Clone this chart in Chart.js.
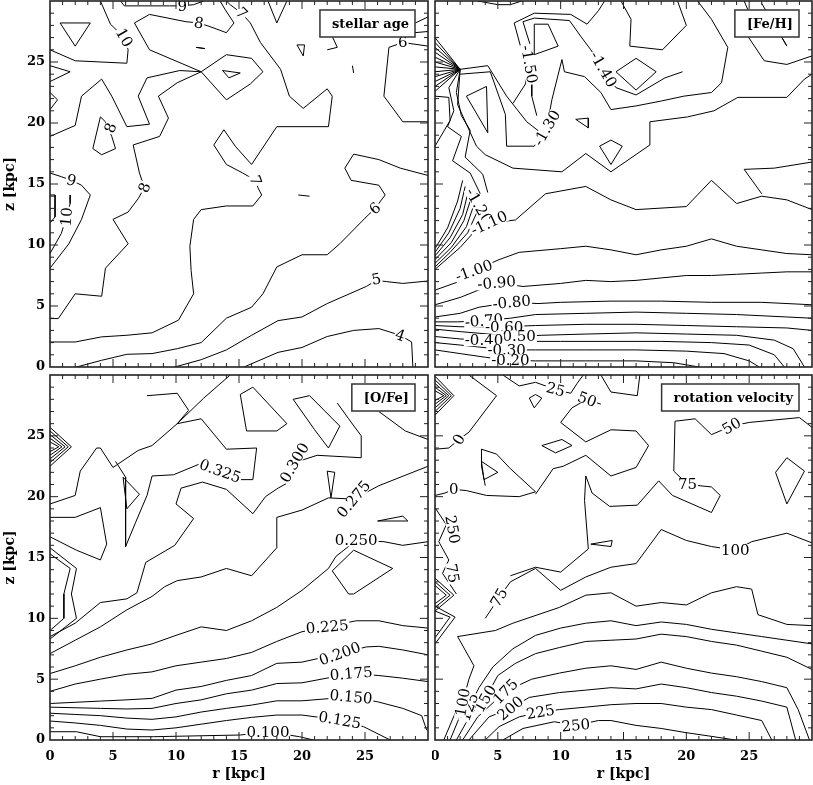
<!DOCTYPE html>
<html>
<head>
<meta charset="utf-8">
<script src="https://cdn.jsdelivr.net/npm/chart.js@4.4.1/dist/chart.umd.min.js"></script>
<style>
  body { margin: 0; background: #fff; width: 813px; height: 785px; position: relative; overflow: hidden; }
  canvas { position: absolute; }
</style>
</head>
<body>
<canvas id="cAge" width="432" height="372" style="left:0;top:0"></canvas>
<canvas id="cFe" width="381" height="372" style="left:432px;top:0"></canvas>
<canvas id="cOFe" width="432" height="413" style="left:0;top:372px"></canvas>
<canvas id="cVrot" width="381" height="413" style="left:432px;top:372px"></canvas>
<script>
// axis ticks (kpc)
const rTicks = [0, 5, 10, 15, 20, 25];
const zTicks = [0, 5, 10, 15, 20, 25];

// ---- stellar age contours, [r, z] in kpc ----
const age4 = [[15.4,0],[18.1,1.2],[20.0,1.6],[22.0,2.5],[24.1,3.0],[26.1,3.15],[27.8,2.6],[28.7,2.05],[28.8,0]];
const age5 = [[9.9,0],[12.0,0.6],[14.0,1.4],[16.0,2.6],[18.1,3.8],[20.0,4.1],[22.0,5.2],[25.1,6.6],[25.9,7.1],[26.7,7.0],[28.0,6.85],[30,7.05]];
const age6 = [[2.1,0],[4.1,0.55],[6.1,1.04],[8.1,1.1],[10.1,1.5],[12.0,2.0],[14.0,4.0],[16.0,4.9],[16.9,6.0],[18.0,8.2],[20.0,9.2],[22.0,9.2],[23.0,10.1],[25.0,12.2],[25.8,13.0],[26.6,14.1],[26.1,14.9],[23.9,15.3],[23.4,16.3],[24.1,17.45],[26.1,17.0],[27.8,16.3],[30,15.7]];
const age7 = [[0,2.05],[2.0,2.05],[4.1,2.47],[6.1,2.6],[8.1,2.8],[10.2,3.84],[11.4,6.0],[11.2,7.9],[11.1,9.9],[11.4,12.1],[12.0,12.9],[14.0,13.2],[16.1,13.2],[16.8,14.1],[16.5,14.7],[16.3,15.3],[15.3,15.9],[14.0,16.6],[13.0,18.2],[13.8,19.45],[14.7,18.1],[16.0,16.6],[18.0,19.7],[22.1,19.7],[22.4,22.2],[22.0,22.8],[20.1,21.2],[19.0,22.2],[18.3,24.4],[16.7,26.6],[15.9,28.2],[15.2,29.0],[14.3,29.7],[14.0,30]];
const age8a = [[0,3.97],[0.66,3.97],[2.0,6.0],[4.1,5.8],[4.4,8.1],[6.2,10.1],[5.0,12.1],[6.2,12.7],[7.0,13.8],[7.5,14.7],[7.1,15.9],[6.6,18.2],[8.7,18.9],[9.4,20.4],[8.6,22.2],[10.1,23.3],[12.0,24.2],[14.0,21.9],[15.9,23.2],[16.9,24.2],[16.0,25.3],[14.0,25.6],[12.0,24.2],[7.9,26.0],[6.7,28.2],[7.9,28.9],[10.8,28.3],[11.8,28.2],[12.7,27.9],[14.0,27.4],[14.6,28.2],[13.9,29.3],[13.5,30]];
const age8b = [[4.0,20.5],[3.4,17.9],[4.1,17.4],[5.2,17.9],[4.9,18.9],[4.4,20.1],[4.0,20.5]];
const age9a = [[0,18.9],[2.0,19.8],[2.5,22.2],[4.1,23.6],[4.9,22.2],[6.1,19.7],[7.9,19.9],[7.0,22.2],[7.7,23.7],[10.3,24.3],[12.0,24.2]];
const age9b = [[5.6,30],[5.9,29.6],[9.5,29.6],[10.5,29.6],[11.4,29.7],[12.2,30]];
const age9c = [[0,15.9],[0.9,15.6],[1.7,15.3],[2.5,14.9],[3.2,14.1],[2.5,12.1],[1.5,10.1],[0,8.1]];
const age10a = [[4.0,30],[4.8,28.1],[5.9,27.0],[6.2,26.0],[6.1,24.9],[2.0,25.1],[0,26.0]];
const age10b = [[1.6,14.1],[1.6,13.4],[1.3,12.3],[0.9,10.95],[0,9.3]];
const age11 = [[0,14.1],[0.4,14.1],[0.4,12.3],[0,11.8]];
const ageTri = [[0.8,28.2],[3.2,28.2],[2.0,26.3],[0.8,28.2]];
const ageNotchA = [[0,24.7],[1.6,24.2],[0,23.4]];
const ageNotchB = [[0,22.5],[0.6,21.9],[0,21.1]];
const ageDiamond = [[13.7,24.3],[15.1,24.1],[14.2,23.7],[13.7,24.3]];
const ageSmallTri = [[19.6,26.4],[20.2,26.4],[20.1,25.5],[19.6,26.4]];
const ageTopV = [[17.3,30],[18.0,28.2],[18.8,30]];
const age6top = [[30,26.3],[28.0,26.6],[26.9,26.2],[26.5,22.2],[28.0,20.1],[30,20.1]];
const age7box = [[22.0,26.0],[22.8,26.2],[22.4,27.1]];
const ageEyeA = [[11.6,26.2],[12.3,26.1],[11.6,26.2]];
const ageEyeB = [[19.7,14.1],[20.6,14.0]];
const ageEyeC = [[24.0,24.7],[24.1,24.1]];
const ageCornerA = [[29.0,28.2],[30,28.7]];
const ageCornerB = [[28.9,27.4],[30,27.5]];
const ageLabels = [['4',27.8,2.6,20],['5',25.9,7.2,-10],['6',25.8,13.0,-40],['7',16.3,15.3,70],['7',15.2,29.0,45],
  ['8',7.5,14.7,-70],['8',11.8,28.2,10],['8',4.8,19.6,-70],['9',1.7,15.3,15],['9',10.5,29.6,0],['10',5.9,27.0,60],['10',1.3,12.3,-85],['6',28.0,26.6,0]];

// ---- [Fe/H] contours ----
const fe020 = [[0,1.4],[2,1.1],[4,0.8],[6.0,0.55],[8,0.5],[12,0.5],[16,0.5],[19,0.35],[21,0]];
const fe030 = [[0,2.0],[2,1.8],[5.7,1.4],[8,1.4],[12,1.4],[16,1.4],[20,1.3],[23,1.1],[25,0.5],[25.8,0]];
const fe040 = [[0,2.5],[2,2.3],[3.9,2.2],[6,2.1],[10,2.1],[14,2.1],[18,2.1],[22,2.0],[25,1.8],[27,1.0],[27.8,0]];
const fe050 = [[0,3.1],[2,2.9],[6.5,2.5],[8.5,2.6],[12,2.7],[16,2.8],[20,2.7],[24,2.6],[27,2.2],[28.5,1.5],[29.4,0]];
const fe060 = [[0,3.4],[2,3.3],[5.5,3.3],[8,3.4],[12,3.5],[16,3.5],[20,3.4],[24,3.3],[28,3.2],[30,3.0]];
const fe070 = [[0,3.7],[1.8,3.7],[3.9,3.8],[6,4.0],[8,4.3],[12,4.4],[16,4.5],[20,4.4],[24,4.3],[28,4.1],[30,4.0]];
const fe080 = [[0,4.1],[2,4.4],[3.5,4.9],[6.1,5.3],[8.2,5.2],[10,5.3],[14,5.4],[18,5.4],[22,5.3],[26,5.3],[30,5.1]];
const fe090 = [[0,5.1],[2,5.7],[4.9,6.9],[7.0,6.6],[10,6.85],[12,7.1],[14,7.0],[16,7.1],[18,7.3],[20,7.5],[22,7.5],[24,7.6],[26,7.7],[28,7.8],[30,7.8]];
const fe100 = [[0,6.3],[1.9,7.0],[3.1,7.9],[5.1,8.8],[6.7,9.4],[10,9.7],[12,9.9],[14,9.6],[16,9.2],[18,9.6],[20,9.9],[22,10.5],[24,9.9],[26,9.6],[28,9.3],[30,9.2]];
const fe110 = [[0,8.0],[2.0,9.8],[3.4,11.4],[4.3,11.8],[6.4,12.05],[8.8,14.2],[12.0,14.8],[14.0,13.7],[16.0,12.9],[20.0,13.15],[22.0,15.3],[24.0,13.4],[26.0,14.0],[28.0,13.7],[30,12.9]];
const fe110b = [[30,16.8],[27,16.3],[24.6,16.2],[26.0,14.2]];
const fe120 = [[2.0,24.4],[1.8,21.5],[3.3,18.1],[4.0,17.4],[6.2,16.3],[10.1,16.0],[12.0,17.5],[14.0,16.0],[17.1,18.2],[17.1,20.1],[20.1,20.5],[22.2,21.0],[24.1,22.1],[26.1,22.1],[28.0,22.1],[29.4,23.6],[30,24.0]];
const fe130 = [[5.7,18.1],[7.9,18.1],[8.9,19.6],[9.3,21.9],[10.1,25.2],[10.3,24.2],[11.9,23.8],[13.2,22.5],[14.0,21.1],[16.0,21.4],[18.0,21.8],[19.8,22.2],[22.0,22.5],[22.8,23.3],[23.3,26.2],[22.0,28.5],[20.9,30]];
const fe130b = [[2.0,24.4],[4.2,24.7],[5.7,22.2],[7.3,20.1],[8.3,19.3]];
const fe130c = [[2.0,24.0],[4.4,24.2],[5.6,20.7],[5.7,18.1]];
const fe140 = [[7.0,28.3],[7.9,28.6],[10.7,28.4],[11.6,27.1],[12.4,26.0],[13.4,24.4],[14.4,22.9],[16.0,22.3],[18.3,23.7],[19.7,24.2]];
const fe150 = [[6.2,21.6],[7.2,23.2],[7.5,24.8],[6.8,26.3],[6.3,28.2],[7.9,29.0],[10.8,28.9],[12.1,28.1],[13.0,29.2],[13.5,30]];
const fe150b = [[7.0,28.3],[7.7,26.0],[7.7,22.2],[8.1,20.6]];
const feTopV = [[3.4,30],[5.0,29.7],[6.0,29.7],[6.9,30]];
const feTri = [[7.9,28.1],[9.0,28.1],[9.8,26.3],[7.9,25.6],[7.9,28.1]];
const feTriIn = [[2.5,22.2],[4.1,23.0],[4.2,19.2],[2.5,22.2]];
const feDiamond = [[14.4,24.2],[16.0,25.3],[17.6,24.2],[16.0,22.7],[14.4,24.2]];
const feLoop = [[14.8,30],[15.6,28.5],[15.5,26.3],[18.1,26.0],[20.0,28.0],[19.3,30]];
const feRight = [[24.6,30],[25.1,28.8],[24.9,27.1],[26.2,25.1],[28.0,24.8],[30,25.5]];
const feRightV = [[26.0,29.8],[28.0,26.3],[27.4,27.4]];
const feSmallA = [[11.2,20.3],[12.2,20.4],[12.2,19.6],[11.2,20.3]];
const feSmallB = [[13.1,18.1],[14.0,18.6],[14.9,18.1],[14.0,16.6],[13.1,18.1]];
const feEdge = [[0,22.2],[1.1,22.1],[1.2,20.2],[0,18.1]];
const feWigA = [[2.0,24.4],[1.1,22.9],[1.5,21.0],[1.0,19.7],[2.1,18.9],[1.4,16.9],[2.8,15.9],[3.6,14.2]];
const feWigB = [[2.0,24.4],[1.7,22.5],[2.1,20.6],[2.8,19.4],[2.4,17.2],[3.8,15.8],[4.2,14.3]];
const feFanTop = [22.6,23.0,23.4,23.8,24.2,24.6,25.0,25.4,25.8,26.2,26.6,27.0];
const feBundle = [
  [[0,8.2],[1.2,9.4],[2.6,11.0],[3.3,12.6]],
  [[0,8.5],[1.3,9.8],[2.5,11.5],[3.0,13.0]],
  [[0,8.8],[1.3,10.2],[2.3,12.0],[2.8,13.6]],
  [[0,9.1],[1.2,10.6],[2.2,12.5],[2.6,14.2]],
  [[0,9.4],[1.1,11.0],[2.0,13.0],[2.4,14.8]],
  [[0,9.7],[1.0,11.4],[1.8,13.6],[2.2,15.3]]
];
const feLabels = [['-1.50',7.5,24.8,80],['-1.40',13.4,24.4,60],['-1.30',8.9,19.6,-60],['-1.20',3.5,13.2,60],['-1.10',4.3,11.8,-25],
  ['-1.00',3.1,7.9,-20],['-0.90',4.9,6.9,-5],['-0.80',6.1,5.3,-5],['-0.70',3.9,3.8,-5],['-0.60',5.5,3.3,0],['-0.50',6.5,2.5,0],
  ['-0.40',3.9,2.2,0],['-0.30',5.7,1.4,0],['-0.20',6.0,0.55,0]];

// ---- [O/Fe] contours ----
const ofe100 = [[0,0.68],[2.1,0.68],[4.0,0.27],[8.2,0.27],[15.1,0.41],[17.3,0.68],[19.8,0.27],[20.9,0]];
const ofe125 = [[0,1.56],[2,1.4],[4,1.2],[6.1,0.9],[8.1,0.82],[10,1.0],[12,1.3],[14,1.6],[16,1.86],[18,2.05],[20,2.05],[23.0,1.64],[24.9,1.09],[27.0,0]];
const ofe150 = [[0,2.2],[2,2.1],[4,2.0],[6.1,1.8],[8.1,1.7],[10,1.9],[12,2.3],[14,2.6],[16,2.87],[18,3.22],[20,3.22],[23.9,3.55],[26.0,3.14],[28.0,2.6],[29.5,2.0],[29.9,0.8]];
const ofe175 = [[0,2.7],[2,2.65],[4,2.6],[6.1,2.55],[8.1,2.6],[10,3.0],[12,3.3],[14,3.8],[16,4.1],[18,4.64],[20,4.7],[23.9,5.46],[26.1,5.3],[28,5.08],[30,4.8]];
const ofe200 = [[0,3.0],[2,3.1],[4,3.2],[6.1,3.3],[8.1,3.42],[10,4.1],[12,4.4],[14,4.9],[16,5.3],[18,6.3],[20,6.4],[23.0,7.1],[25.1,7.65],[26.1,7.7],[28,7.4],[30,7.0]];
const ofe225 = [[0,4.0],[2,4.6],[4,5.0],[6.1,5.4],[8.1,5.6],[10,6.1],[12,6.4],[14,6.7],[16,7.2],[18,8.1],[20,8.9],[22.0,9.3],[24.3,9.8],[26.1,9.8],[28,9.4],[30,9.2]];
const ofe250 = [[0,5.46],[2,6.1],[4,6.8],[6.1,7.4],[8.1,7.9],[10,8.6],[12,9.3],[14,9.0],[16,9.8],[18,10.9],[20,12.3],[22.1,14.1],[22.7,15.1],[24.3,16.4],[26.5,16.3],[28,16.0],[30,16.3]];
const ofe275 = [[0,7.1],[2,8.2],[4,9.3],[6.1,10.7],[8.1,11.8],[9.1,12.6],[10.1,13.1],[12,13.4],[14,14.1],[16,13.5],[18,15.8],[18,18.3],[20,18.9],[22.1,19.9],[24.1,19.8],[26.1,20.9],[30,22.5]];
const ofe300 = [[0,8.5],[2,9.6],[4,11.3],[6.1,11.6],[6.9,12.1],[7.6,14.6],[9.9,16.0],[11.4,18.2],[10.0,19.4],[10.4,20.7],[12.1,21.2],[14.0,20.6],[16.1,18.6],[17.1,20.0],[18.1,20.7],[18.8,21.1],[19.4,22.8],[21.2,23.4],[24.7,23.2],[24.7,25.0],[23.7,26.4],[22.8,27.7]];
const ofe325 = [[5.2,22.9],[6.0,21.6],[6.0,15.9],[6.8,17.9],[7.7,20.1],[8.1,21.7],[9.8,21.8],[11.9,22.7],[13.5,22.1],[15.1,21.4],[16.1,21.4],[16.4,24.0],[14.0,23.9],[12.0,26.4],[10.1,26.0]];
const ofeUpper = [[0,19.4],[2.0,20.1],[2.4,22.1],[3.7,24.0],[4.0,24.0],[5.0,22.4],[7.0,23.8],[8.1,24.2],[10.1,26.0],[12.2,28.1],[14.3,30]];
const ofeLobe = [[0,18.3],[2.0,18.3],[4.0,19.1],[4.5,16.1],[4.0,14.8],[2.1,15.6],[0,16.7]];
const ofeEdgeA = [[0,15.8],[2.1,14.1],[1.7,12.0],[2.1,10.0],[0,8.3]];
const ofeEdgeB = [[0,15.3],[1.6,14.1],[1.1,12.0],[1.1,10.0],[0,9.0]];
const ofeTri = [[22.0,22.1],[22.6,22.0],[22.3,19.9],[22.0,22.1]];
const ofeTriB = [[5.8,21.6],[7.1,20.2],[6.1,19.0],[5.8,21.6]];
const ofeTopA = [[15.1,28.4],[16.1,29.0],[18.8,26.0],[18.0,25.4],[15.6,25.4],[15.1,28.4]];
const ofeTopB = [[19.3,28.0],[20.6,28.3],[23.0,25.8],[22.1,24.0],[21.0,25.5],[19.3,28.0]];
const ofeTopC = [[7.7,28.3],[10.1,28.5],[11.0,27.1],[10.1,26.0]];
const ofeRightA = [[26.0,18.0],[28.0,18.4],[28.4,18.0],[26.0,18.0]];
const ofeRightB = [[22.4,13.9],[24.1,15.6],[27.2,14.1],[24.1,12.0],[23.7,12.0],[22.4,13.9]];
const ofeRightC = [[26.1,27.0],[28.2,25.4],[30,24.7]];
const ofeFan = [
  [[0,25.7],[1.7,24.1],[0,22.5]],
  [[0,25.4],[1.45,24.1],[0,22.8]],
  [[0,25.1],[1.2,24.1],[0,23.1]],
  [[0,24.8],[0.95,24.1],[0,23.4]],
  [[0,24.5],[0.7,24.1],[0,23.7]]
];
const ofeLabels = [['0.100',17.3,0.68,0],['0.125',23.0,1.64,10],['0.150',23.9,3.55,5],['0.175',23.9,5.46,-5],['0.200',23.0,7.1,-20],
  ['0.225',22.0,9.3,-5],['0.250',24.3,16.4,0],['0.275',24.1,19.8,-50],['0.300',19.4,22.8,-60],['0.325',13.5,22.1,20]];

// ---- rotation velocity contours ----
const v250 = [[5.4,0],[7.0,0.95],[9.5,1.5],[11.2,1.2],[13,1.6],[14,1.6],[16,1.2],[18,0.95],[20,0.6],[22,0.3],[23.9,0]];
const v225 = [[4.0,0],[5.1,1.1],[6.7,1.9],[8.4,2.3],[9.9,2.5],[12,2.7],[14,2.9],[16,3.0],[18,3.0],[20,2.7],[22,2.5],[24,2.05],[26,1.6],[26.8,0]];
const v200 = [[2.7,0],[4.3,1.9],[6.0,2.6],[7.5,3.5],[9.9,3.9],[12,4.1],[14,4.3],[16,4.2],[18,4.6],[20,4.3],[22,3.9],[24,3.6],[26,3.2],[28,2.7],[28.7,0]];
const v175 = [[2.2,0],[3.4,1.9],[5.6,4.0],[7.7,5.0],[9.9,5.5],[12,5.9],[14,6.1],[16,5.8],[18,6.4],[20,5.9],[22,5.5],[24,5.2],[26,4.8],[28,4.3],[28.9,2.5],[29.8,0]];
const v150 = [[1.7,0],[2.9,2.2],[4.0,3.4],[5.0,5.3],[6.4,6.3],[8,7.1],[9.9,7.6],[12,8.1],[14,8.2],[16,8.3],[18,8.7],[20,8.5],[22,8.1],[24,7.8],[26,7.3],[28,6.8],[30,5.8]];
const v125 = [[1.2,0],[2.0,2.0],[2.7,2.7],[3.5,4.3],[4.6,6.0],[6.2,7.5],[8,8.6],[10,9.2],[12,9.6],[14,9.8],[16,9.4],[18,9.7],[20,9.5],[22,9.1],[24,8.8],[26,8.5],[28,8.2],[30,7.9]];
const v100 = [[0.7,0],[1.6,2.2],[2.2,3.1],[2.7,5.0],[3.1,6.1],[1.8,8.5]];
const v100b = [[1.8,8.5],[4.8,9.0],[6.2,9.6],[9.9,10.9],[12,11.9],[14,12.1],[16,11.0],[18,11.3],[20,11.1],[22,12.1],[24,12.6],[25.2,12.4],[25.7,10.3],[28,9.5],[30,9.4]];
const v75 = [[4.0,10.0],[5.1,11.7],[6.0,13.0],[8.0,14.1],[10.0,12.3],[12.0,13.4],[14.0,14.2],[16.0,14.5],[18.0,17.3],[20.0,16.4],[22.0,15.9],[23.9,15.6],[25.2,16.3],[28.0,17.0],[30,16.2]];
const v75b = [[12.0,21.7],[12.5,20.3],[13.9,19.2],[16.1,19.3],[17.8,21.3],[18.9,20.1],[22.0,18.7],[22.7,20.1],[22.0,20.8],[20.1,21.0],[19.0,22.1],[19.1,26.2],[20.7,26.4],[22.0,25.1],[23.6,25.8],[25.0,26.1],[27.0,26.3],[29.0,26.5],[30,25.7]];
const v75c = [[12.0,21.7],[11.9,19.7],[12.2,15.7],[10.0,13.8],[8.0,14.2],[6.0,13.5]];
const v50 = [[10,26.1],[10.9,27.3],[12.1,28.0],[13.2,27.6]];
const v50loop = [[10.0,26.1],[12.0,24.5],[14.0,25.5],[16.0,25.4],[17.0,24.2],[16.0,22.4],[14.0,21.7],[12.0,23.4],[10.2,22.5],[9.4,22.3],[8.0,20.2]];
const v50U = [[13.2,30],[14.0,28.6],[16.1,28.3],[16.3,30]];
const v25 = [[5.4,30],[6.7,29.1],[8.0,29.4],[9.6,28.8],[10.8,28.5],[11.3,29.3],[11.8,30]];
const v0a = [[2.7,30],[4.9,28.3],[2.7,25.3],[1.9,24.7],[1.1,24.0],[0,23.9]];
const v0b = [[0,20.1],[0.8,20.3],[1.5,20.6],[2.5,20.5],[4.1,20.1],[6.7,20.0],[8.0,20.4],[6.0,22.3],[4.9,23.5],[3.7,23.9],[3.7,22.5],[4.0,20.9]];
const vSmallA = [[7.5,28.1],[8.0,28.4],[8.5,28.1],[7.9,27.3],[7.5,28.1]];
const vSmallB = [[8.5,24.2],[10.1,24.7],[10.9,24.2],[9.6,23.6],[8.5,24.2]];
const vSmallC = [[3.7,22.9],[5.0,22.0],[3.9,21.4],[3.7,22.9]];
const vSmallD = [[12.4,16.1],[14.1,16.4],[14.0,15.9],[12.4,16.1]];
const vDiamond = [[28.0,23.2],[29.4,22.1],[28.0,19.4],[27.1,22.0],[28.0,23.2]];
const vZig = [[0,19.1],[0.9,17.7],[0.3,16.3],[1.1,14.8],[0.6,13.7],[1.7,12.0]];
const vFanTop = [
  [[0,29.9],[1.5,28.3],[0,26.7]],
  [[0,29.6],[1.3,28.3],[0,27.0]],
  [[0,29.3],[1.1,28.3],[0,27.3]],
  [[0,29.0],[0.9,28.3],[0,27.6]],
  [[0,28.7],[0.7,28.3],[0,27.9]]
];
const vFanMid = [
  [[0,13.3],[1.5,11.9],[0,10.6]],
  [[0,13.0],[1.2,11.9],[0,10.9]],
  [[0,12.7],[0.9,11.9],[0,11.2]],
  [[0,11.0],[1.6,10.1],[0,7.9]],
  [[0,10.6],[1.2,10.1],[0,8.4]]
];
const vLabels = [['250',11.2,1.2,-5],['225',8.4,2.3,-10],['200',6.0,2.6,-40],['175',5.6,4.0,-45],['150',4.0,3.4,-60],['125',2.7,2.7,-70],
  ['100',2.2,3.1,-80],['75',5.1,11.7,-60],['100',23.9,15.6,0],['75',20.1,21.0,0],['50',23.6,25.8,-30],['50',12.1,28.0,20],
  ['25',9.6,28.8,15],['0',1.9,24.7,-60],['0',1.5,20.6,0],['250',1.4,17.3,80],['75',1.4,13.7,80]];

// fan lines at r = 0 for [Fe/H]: each left-edge start point runs into the same vertex
const feFanLines = feFanTop.map(z0 => [[0, z0], [2.0, 24.4]]);

const agePaths = [age4, age5, age6, age7, age8a, age8b, age9a, age9b, age9c, age10a, age10b, age11, ageTri, ageNotchA, ageNotchB,
  ageDiamond, ageSmallTri, ageTopV, age6top, age7box, ageEyeA, ageEyeB, ageEyeC, ageCornerA, ageCornerB];
const fePaths = [fe020, fe030, fe040, fe050, fe060, fe070, fe080, fe090, fe100, fe110, fe110b, fe120, fe130, fe130b, fe130c, fe140,
  fe150, fe150b, feTopV, feTri, feTriIn, feDiamond, feLoop, feRight, feRightV, feSmallA, feSmallB, feEdge, feWigA, feWigB,
  ...feBundle, ...feFanLines];
const ofePaths = [ofe100, ofe125, ofe150, ofe175, ofe200, ofe225, ofe250, ofe275, ofe300, ofe325, ofeUpper, ofeLobe, ofeEdgeA, ofeEdgeB,
  ofeTri, ofeTriB, ofeTopA, ofeTopB, ofeTopC, ofeRightA, ofeRightB, ofeRightC, ...ofeFan];
const vPaths = [v250, v225, v200, v175, v150, v125, v100, v100b, v75, v75b, v75c, v50, v50loop, v50U, v25, v0a, v0b,
  vSmallA, vSmallB, vSmallC, vSmallD, vDiamond, vZig, ...vFanTop, ...vFanMid];

const SERIF = '"DejaVu Serif", serif';

// labels, legend box, frame and inward tick marks
const panelDeco = {
  id: 'panelDeco',
  afterDatasetsDraw(chart, args, opts) {
    const { ctx, chartArea: a, scales: { x, y } } = chart;
    ctx.save();
    ctx.beginPath();
    ctx.rect(a.left, a.top, a.right - a.left, a.bottom - a.top);
    ctx.clip();

    ctx.font = '15px ' + SERIF;
    ctx.textAlign = 'center';
    ctx.textBaseline = 'middle';
    opts.labels.forEach(([txt, r, z, ang]) => {
      const px = x.getPixelForValue(r);
      const py = y.getPixelForValue(z);
      const w = ctx.measureText(txt).width;
      ctx.save();
      ctx.translate(px, py);
      ctx.rotate(ang * Math.PI / 180);
      ctx.fillStyle = '#fff';
      ctx.fillRect(-w / 2 - 1, -6, w + 2, 12);
      ctx.fillStyle = '#000';
      ctx.fillText(txt, 0, 1);
      ctx.restore();
    });

    // legend box in the upper right corner
    ctx.font = 'bold 13px ' + SERIF;
    const tw = ctx.measureText(opts.title).width;
    const bx1 = a.right - 13, bx0 = bx1 - tw - 18, by0 = a.top + 9, bh = 27;
    ctx.fillStyle = '#fff';
    ctx.fillRect(bx0, by0, bx1 - bx0, bh);
    ctx.strokeStyle = '#333';
    ctx.lineWidth = 1.5;
    ctx.strokeRect(bx0, by0, bx1 - bx0, bh);
    ctx.fillStyle = '#000';
    ctx.textAlign = 'right';
    ctx.fillText(opts.title, bx1 - 6, by0 + bh / 2 + 1);
    ctx.restore();

    // frame + ticks on all four sides
    ctx.save();
    ctx.strokeStyle = '#222';
    ctx.lineWidth = 1;
    ctx.beginPath();
    for (let v = 1; v < 30; v++) {
      const len = v % 5 === 0 ? 8 : 4;
      const px = x.getPixelForValue(v);
      ctx.moveTo(px, a.bottom); ctx.lineTo(px, a.bottom - len);
      ctx.moveTo(px, a.top); ctx.lineTo(px, a.top + len);
      const py = y.getPixelForValue(v);
      ctx.moveTo(a.left, py); ctx.lineTo(a.left + len, py);
      ctx.moveTo(a.right, py); ctx.lineTo(a.right - len, py);
    }
    ctx.stroke();
    ctx.lineWidth = 1.6;
    ctx.strokeRect(a.left, a.top, a.right - a.left, a.bottom - a.top);
    ctx.restore();
  }
};

function makePanel(id, paths, labels, title, showX, showY, pad) {
  const datasets = paths.map(p => ({
    data: p.map(([r, z]) => ({ x: r, y: z })),
    showLine: true,
    borderColor: '#000',
    borderWidth: 1,
    pointRadius: 0,
    fill: false,
    tension: 0
  }));
  const tickFont = { family: SERIF, size: 13, weight: 'bold' };
  const hide30 = v => (v >= 30 ? '' : v);
  return new Chart(document.getElementById(id), {
    type: 'scatter',
    data: { datasets },
    options: {
      responsive: false,
      animation: false,
      events: [],
      layout: { padding: pad },
      plugins: {
        legend: { display: false },
        tooltip: { enabled: false },
        panelDeco: { labels, title }
      },
      scales: {
        x: {
          type: 'linear', min: 0, max: 30, display: showX,
          afterBuildTicks: s => { s.ticks = rTicks.map(v => ({ value: v })); },
          ticks: { font: tickFont, color: '#000', padding: 9, maxRotation: 0, callback: hide30 },
          grid: { display: false, drawTicks: false },
          border: { display: false },
          title: { display: true, text: 'r [kpc]', font: { family: SERIF, size: 14, weight: 'bold' }, color: '#000', padding: { top: 0, bottom: 2 } },
          afterFit: s => { s.height = showX ? 45 : 0; s.paddingLeft = 0; s.paddingRight = 0; }
        },
        y: {
          type: 'linear', min: 0, max: 30, display: showY,
          afterBuildTicks: s => { s.ticks = zTicks.map(v => ({ value: v })); },
          ticks: { font: tickFont, color: '#000', padding: 5, callback: hide30 },
          grid: { display: false, drawTicks: false },
          border: { display: false },
          title: { display: true, text: 'z [kpc]', font: { family: SERIF, size: 14, weight: 'bold' }, color: '#000', padding: { top: 2, bottom: 0 } },
          afterFit: s => { s.width = showY ? 50 : 0; s.paddingTop = 0; s.paddingBottom = 0; }
        }
      }
    },
    plugins: [panelDeco]
  });
}

makePanel('cAge', agePaths, ageLabels, 'stellar age', false, true, { left: 0, top: 1, right: 4, bottom: 5 });
makePanel('cFe', fePaths, feLabels, '[Fe/H]', false, false, { left: 3, top: 1, right: 1, bottom: 5 });
makePanel('cOFe', ofePaths, ofeLabels, '[O/Fe]', true, true, { left: 0, top: 3, right: 4, bottom: 0 });
makePanel('cVrot', vPaths, vLabels, 'rotation velocity', true, false, { left: 3, top: 3, right: 1, bottom: 0 });
</script>
</body>
</html>
